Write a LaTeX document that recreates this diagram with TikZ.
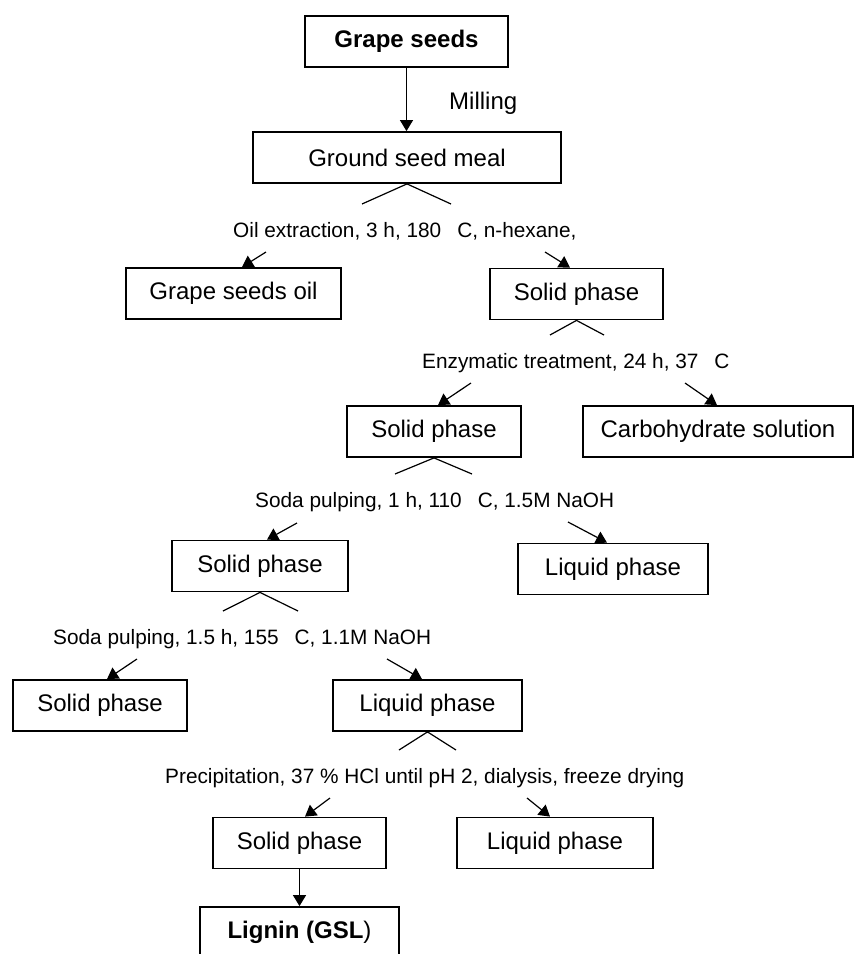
\documentclass[tikz,border=0pt]{standalone}
\usepackage{fontspec}
\setmainfont{Liberation Sans}
\usetikzlibrary{arrows.meta}
\begin{document}
\begin{tikzpicture}[x=1pt,y=-1pt,
  box/.style={draw, line width=1.8pt, minimum width=#1, minimum height=51pt, inner sep=0pt, font=\fontsize{24}{28}\selectfont},
  lbl/.style={anchor=base west, inner sep=0pt, font=\fontsize{20.8}{24}\selectfont},
  split/.style={line width=1.2pt},
  arr/.style={line width=1.2pt, -{Triangle[width=13pt,length=11pt]}},
]
\useasboundingbox (0,0) rectangle (854,954);

\node[box=203pt] (gs) at (406.5,41.5) {\bfseries Grape seeds};
\node[box=308pt] (gsm) at (407,157.5) {Ground seed meal};
\node[box=215pt] (oil) at (233.5,293.5) {Grape seeds oil};
\node[box=173pt] (sp1) at (576.5,294) {Solid phase};
\node[box=174pt] (sp2) at (434,431.5) {Solid phase};
\node[box=270pt] (carb) at (718,431.5) {Carbohydrate solution};
\node[box=176pt] (sp3) at (260,566) {Solid phase};
\node[box=190pt] (lp1) at (613,569) {Liquid phase};
\node[box=174pt] (sp4) at (100,705.5) {Solid phase};
\node[box=189pt] (lp2) at (427.5,705.5) {Liquid phase};
\node[box=173pt] (sp5) at (299.5,843) {Solid phase};
\node[box=196pt] (lp3) at (555,843) {Liquid phase};
\node[box=199pt] (lig) at (299.5,932.5) {\bfseries Lignin (GSL\mdseries)};

\node[lbl, font=\fontsize{24}{28}\selectfont] (milling) at (449,109) {Milling};
\node[lbl] (l1) at (233,237) {Oil extraction, 3 h, 180\hspace{16pt}C, n-hexane,};
\node[lbl] (l2) at (422,368) {Enzymatic treatment, 24 h, 37\hspace{16pt}C};
\node[lbl] (l3) at (255,507) {Soda pulping, 1 h, 110\hspace{16pt}C, 1.5M NaOH};
\node[lbl] (l4) at (53,644) {Soda pulping, 1.5 h, 155\hspace{16pt}C, 1.1M NaOH};
\node[lbl] (l5) at (165,783) {Precipitation, 37 \% HCl until pH 2, dialysis, freeze drying};

\coordinate (a1) at (362,204); \coordinate (a2) at (451,204);
\coordinate (b1) at (266,252); \coordinate (b2) at (545,252);
\coordinate (c1) at (550,335); \coordinate (c2) at (604,335);
\coordinate (d1) at (471,383); \coordinate (d2) at (685,383);
\coordinate (e1) at (395,474); \coordinate (e2) at (472,474);
\coordinate (f1) at (297,523); \coordinate (f2) at (568,522);
\coordinate (g1) at (223,611); \coordinate (g2) at (298,611);
\coordinate (h1) at (137,659); \coordinate (h2) at (387,659);
\coordinate (i1) at (399,750); \coordinate (i2) at (456,750);
\coordinate (j1) at (330,798); \coordinate (j2) at (527,798);

\draw[arr] (gs.south) -- (gs.south |- gsm.north);

\draw[split] (a1) -- (gsm.south) -- (a2);
\draw[arr] (b1) -- ([xshift=8.5pt]oil.north);
\draw[arr] (b2) -- ([xshift=-6.5pt]sp1.north);

\draw[split] (c1) -- (sp1.south) -- (c2);
\draw[arr] (d1) -- ([xshift=4pt]sp2.north);
\draw[arr] (d2) -- ([xshift=-1pt]carb.north);

\draw[split] (e1) -- (sp2.south) -- (e2);
\draw[arr] (f1) -- ([xshift=7pt]sp3.north);
\draw[arr] (f2) -- ([xshift=-6pt]lp1.north);

\draw[split] (g1) -- (sp3.south) -- (g2);
\draw[arr] (h1) -- ([xshift=7pt]sp4.north);
\draw[arr] (h2) -- ([xshift=-5.5pt]lp2.north);

\draw[split] (i1) -- (lp2.south) -- (i2);
\draw[arr] (j1) -- ([xshift=5.5pt]sp5.north);
\draw[arr] (j2) -- ([xshift=-5pt]lp3.north);

\draw[arr] (sp5.south) -- (sp5.south |- lig.north);
\end{tikzpicture}
\end{document}
